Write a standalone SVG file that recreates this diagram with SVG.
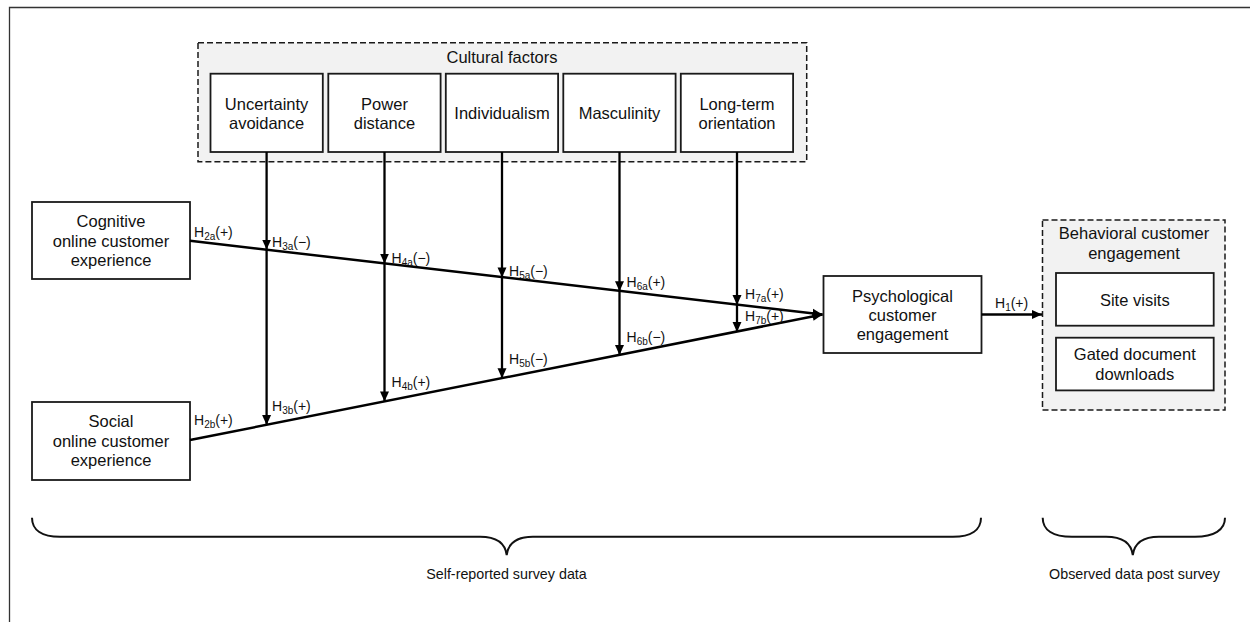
<svg xmlns="http://www.w3.org/2000/svg" width="1250" height="622" viewBox="0 0 1250 622">
<defs>
<marker id="ah" markerWidth="11" markerHeight="10" refX="10" refY="5" orient="auto" markerUnits="userSpaceOnUse"><path d="M0,0.5 L10,5 L0,9.5 z" fill="#000"/></marker>
<style>
text{font-family:"Liberation Sans",Arial,Helvetica,sans-serif;fill:#111}
.n{font-size:16.5px;text-anchor:middle}
.l{font-size:14px}
.s{font-size:14.3px;text-anchor:middle}
.sub{font-size:10px}
.box{fill:#fff;stroke:#1a1a1a;stroke-width:1.8}
.grp{fill:#f2f2f2;stroke:#1a1a1a;stroke-width:1.5;stroke-dasharray:6 3}
.c{fill:none;stroke:#000;stroke-width:2.5}
.v{fill:none;stroke:#000;stroke-width:2.3}
.br{fill:none;stroke:#111;stroke-width:2}
</style>
</defs>
<path d="M9.5,622 V7.5 H1250" fill="none" stroke="#333" stroke-width="1.3"/>

<g id="cultural-factors">
<rect class="grp" x="198" y="42.7" width="608.7" height="119"/>
<text class="n" x="502" y="63.3">Cultural factors</text>
</g>
<g id="uncertainty-avoidance">
<rect class="box" x="210.5" y="73.7" width="112.3" height="78.3"/>
<text class="n" x="266.6" y="110">Uncertainty</text>
<text class="n" x="266.6" y="129">avoidance</text>
</g>
<g id="power-distance">
<rect class="box" x="328.3" y="73.7" width="112.3" height="78.3"/>
<text class="n" x="384.5" y="110">Power</text>
<text class="n" x="384.5" y="129">distance</text>
</g>
<g id="individualism">
<rect class="box" x="445.8" y="73.7" width="112.3" height="78.3"/>
<text class="n" x="502" y="118.7">Individualism</text>
</g>
<g id="masculinity">
<rect class="box" x="563.3" y="73.7" width="112.3" height="78.3"/>
<text class="n" x="619.5" y="118.7">Masculinity</text>
</g>
<g id="long-term-orientation">
<rect class="box" x="680.8" y="73.7" width="112.3" height="78.3"/>
<text class="n" x="737" y="110">Long-term</text>
<text class="n" x="737" y="129">orientation</text>
</g>

<g id="cognitive-ocx">
<rect class="box" x="32" y="202" width="158" height="77"/>
<text class="n" x="111" y="227.3">Cognitive</text>
<text class="n" x="111" y="246.7">online customer</text>
<text class="n" x="111" y="266">experience</text>
</g>
<g id="social-ocx">
<rect class="box" x="32" y="402" width="158" height="78"/>
<text class="n" x="111" y="427.3">Social</text>
<text class="n" x="111" y="446.7">online customer</text>
<text class="n" x="111" y="466">experience</text>
</g>
<g id="psychological-engagement">
<rect class="box" x="823.5" y="276" width="158" height="77"/>
<text class="n" x="902.5" y="301.5">Psychological</text>
<text class="n" x="902.5" y="320.7">customer</text>
<text class="n" x="902.5" y="340">engagement</text>
</g>
<g id="behavioral-engagement">
<rect class="grp" x="1042.5" y="220" width="182.5" height="190"/>
<text class="n" x="1134" y="239.3">Behavioral customer</text>
<text class="n" x="1134" y="258.7">engagement</text>
</g>
<g id="site-visits">
<rect class="box" x="1056" y="273" width="157.7" height="52.7"/>
<text class="n" x="1134.8" y="306">Site visits</text>
</g>
<g id="gated-downloads">
<rect class="box" x="1056" y="337.7" width="157.7" height="52.7"/>
<text class="n" x="1134.8" y="360">Gated document</text>
<text class="n" x="1134.8" y="379.5">downloads</text>
</g>

<g id="connectors">
<path class="c" d="M190,240.7 L822.5,314.5" marker-end="url(#ah)"/>
<path class="c" d="M190,440 L822.5,314.5" marker-end="url(#ah)"/>
<path class="c" d="M981.5,314.5 H1042" marker-end="url(#ah)"/>
<path class="v" d="M266.6,152 V249.6" marker-end="url(#ah)"/>
<path class="v" d="M266.6,249.6 V425" marker-end="url(#ah)"/>
<path class="v" d="M384.5,152 V263.6" marker-end="url(#ah)"/>
<path class="v" d="M384.5,263.6 V401.4" marker-end="url(#ah)"/>
<path class="v" d="M502,152 V277.4" marker-end="url(#ah)"/>
<path class="v" d="M502,277.4 V378.2" marker-end="url(#ah)"/>
<path class="v" d="M619.5,152 V291.2" marker-end="url(#ah)"/>
<path class="v" d="M619.5,291.2 V355" marker-end="url(#ah)"/>
<path class="v" d="M737,152 V305" marker-end="url(#ah)"/>
<path class="v" d="M737,305 V331.9" marker-end="url(#ah)"/>
<text class="l" x="194" y="236.5">H<tspan class="sub" dy="3">2a</tspan><tspan dy="-3">(+)</tspan></text>
<text class="l" x="272" y="246.5">H<tspan class="sub" dy="3">3a</tspan><tspan dy="-3">(−)</tspan></text>
<text class="l" x="391.5" y="262.5">H<tspan class="sub" dy="3">4a</tspan><tspan dy="-3">(−)</tspan></text>
<text class="l" x="509" y="275.5">H<tspan class="sub" dy="3">5a</tspan><tspan dy="-3">(−)</tspan></text>
<text class="l" x="626.5" y="287">H<tspan class="sub" dy="3">6a</tspan><tspan dy="-3">(+)</tspan></text>
<text class="l" x="745" y="298.7">H<tspan class="sub" dy="3">7a</tspan><tspan dy="-3">(+)</tspan></text>
<text class="l" x="745" y="321">H<tspan class="sub" dy="3">7b</tspan><tspan dy="-3">(+)</tspan></text>
<text class="l" x="626.5" y="341.7">H<tspan class="sub" dy="3">6b</tspan><tspan dy="-3">(−)</tspan></text>
<text class="l" x="509" y="364.3">H<tspan class="sub" dy="3">5b</tspan><tspan dy="-3">(−)</tspan></text>
<text class="l" x="391.5" y="386.7">H<tspan class="sub" dy="3">4b</tspan><tspan dy="-3">(+)</tspan></text>
<text class="l" x="272" y="410.7">H<tspan class="sub" dy="3">3b</tspan><tspan dy="-3">(+)</tspan></text>
<text class="l" x="194" y="425.3">H<tspan class="sub" dy="3">2b</tspan><tspan dy="-3">(+)</tspan></text>
<text class="l" x="995" y="308.3">H<tspan class="sub" dy="3">1</tspan><tspan dy="-3">(+)</tspan></text>
</g>

<g id="braces">
<path class="br" d="M32,517.7 C32,530 42,536.7 60,536.7 H480 C495,536.7 505,542 506.7,555 C508.4,542 518,536.7 533,536.7 H953 C971,536.7 981,530 981,517.7"/>
<text class="s" x="506.5" y="579">Self-reported survey data</text>
<path class="br" d="M1042.7,517.7 C1042.7,530 1053,536.7 1072,536.7 H1106 C1121,536.7 1131,542 1132.8,555 C1134.6,542 1144,536.7 1159,536.7 H1195 C1214,536.7 1225,530 1225,517.7"/>
<text class="s" x="1134.5" y="579">Observed data post survey</text>
</g>
</svg>
